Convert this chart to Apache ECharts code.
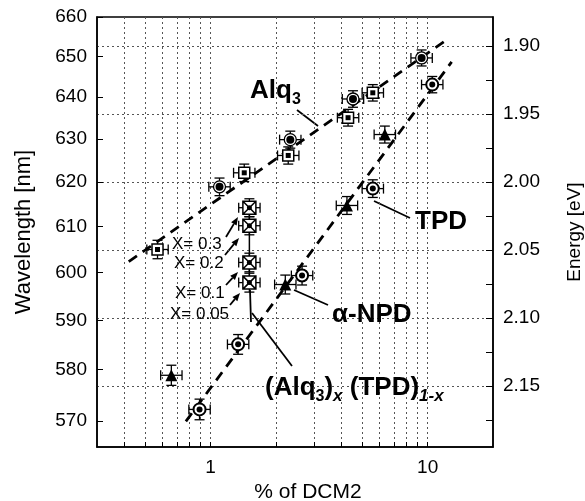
<!DOCTYPE html>
<html>
<head>
<meta charset="utf-8">
<script src="https://cdn.jsdelivr.net/npm/echarts@6/dist/echarts.min.js"></script>
<style>
html, body { margin: 0; padding: 0; background: #fff; }
#main { width: 585px; height: 501px; }
</style>
</head>
<body>
<div id="main"></div>
<script>
// data: % DCM2 and peak wavelength (nm)
var alqCircX = [1.10, 2.33, 4.53, 9.38];
var alqCircNm = [618.9, 629.8, 639.5, 649.6];
var alqSqX = [0.57, 1.43, 2.28, 4.30, 5.59];
var alqSqNm = [605.0, 622.1, 626.1, 635.0, 641.0];
var tpdX = [0.89, 1.34, 2.64, 5.59, 10.5];
var tpdNm = [572.2, 585.1, 599.4, 618.5, 643.0];
var npdX = [0.66, 2.21, 4.25, 6.35];
var npdNm = [578.9, 597.5, 614.7, 631.0];
var mixX = [1.51, 1.51, 1.51, 1.51];
var mixNm = [614.2, 610.2, 602.2, 597.9];
var mixLabels = ['X= 0.3', 'X= 0.2', 'X= 0.1', 'X= 0.05'];
// dashed guide lines (end points)
var fitAlqX = [0.42, 12.2];
var fitAlqNm = [602.4, 654.1];
var fitTpdX = [0.77, 12.9];
var fitTpdNm = [569.9, 648.6];
// error bars
var xErrFactor = 1.12;
var nmErr = 2;
// axes
var xRange = [0.3, 20];
var nmRange = [660, 565];
var xTicks = [0.4, 0.5, 0.6, 0.7, 0.8, 0.9, 1, 2, 3, 4, 5, 6, 7, 8, 9, 10];
var xLabels = [1, 10];
var nmTicks = [570, 580, 590, 600, 610, 620, 630, 640, 650, 660];
var eTicks = [1.90, 1.95, 2.00, 2.05, 2.10, 2.15];
var eMinorTicks = [1.90, 1.925, 1.95, 1.975, 2.00, 2.025, 2.05, 2.075, 2.10, 2.125, 2.15, 2.175];

var HC = 1240;
function ev(nm) { return HC / nm; }
function lg(x) { return Math.log10(x); }
function pts(xs, nms) {
	return xs.map(function (x, i) { return [lg(x), ev(nms[i])]; });
}
function errPts(xs, nms) {
	return xs.map(function (x, i) {
		return [lg(x), ev(nms[i]), lg(x / xErrFactor), lg(x * xErrFactor), ev(nms[i] + nmErr), ev(nms[i] - nmErr)];
	});
}

var FONT = 'Liberation Sans, Arial, Helvetica, sans-serif';
var allErr = [].concat(errPts(alqCircX, alqCircNm), errPts(alqSqX, alqSqNm), errPts(tpdX, tpdNm),
	errPts(npdX, npdNm), errPts(mixX, mixNm));

function errRender(params, api) {
	var c = api.coord([api.value(0), api.value(1)]);
	var xl = api.coord([api.value(2), api.value(1)]);
	var xh = api.coord([api.value(3), api.value(1)]);
	var yl = api.coord([api.value(0), api.value(4)]);
	var yh = api.coord([api.value(0), api.value(5)]);
	var cap = 5;
	var st = { stroke: '#000', lineWidth: 1.3, fill: null };
	return {
		type: 'group',
		children: [
			{ type: 'line', shape: { x1: xl[0], y1: c[1], x2: xh[0], y2: c[1] }, style: st },
			{ type: 'line', shape: { x1: c[0], y1: yl[1], x2: c[0], y2: yh[1] }, style: st },
			{ type: 'line', shape: { x1: xl[0], y1: c[1] - cap, x2: xl[0], y2: c[1] + cap }, style: st },
			{ type: 'line', shape: { x1: xh[0], y1: c[1] - cap, x2: xh[0], y2: c[1] + cap }, style: st },
			{ type: 'line', shape: { x1: c[0] - cap, y1: yl[1], x2: c[0] + cap, y2: yl[1] }, style: st },
			{ type: 'line', shape: { x1: c[0] - cap, y1: yh[1], x2: c[0] + cap, y2: yh[1] }, style: st }
		]
	};
}

function arrow(x1, y1, x2, y2) {
	var a = Math.atan2(y2 - y1, x2 - x1), L = 8, W = 3.2;
	var bx = x2 - L * Math.cos(a), by = y2 - L * Math.sin(a);
	var px = -Math.sin(a) * W, py = Math.cos(a) * W;
	return [
		{ type: 'line', shape: { x1: x1, y1: y1, x2: bx, y2: by }, style: { stroke: '#000', lineWidth: 1.8 } },
		{ type: 'polygon', shape: { points: [[x2, y2], [bx + px, by + py], [bx - px, by - py]] }, style: { fill: '#000' } }
	];
}
function leader(x1, y1, x2, y2) {
	return { type: 'line', shape: { x1: x1, y1: y1, x2: x2, y2: y2 }, style: { stroke: '#000', lineWidth: 1.8 } };
}
var richBig = {
	m: { fontSize: 26, fontWeight: 'bold', fontFamily: FONT, lineHeight: 34, fill: '#000' },
	s: { fontSize: 16, fontWeight: 'bold', fontFamily: FONT, lineHeight: 14, verticalAlign: 'bottom', fill: '#000' },
	si: { fontSize: 17, fontWeight: 'bold', fontStyle: 'italic', fontFamily: FONT, lineHeight: 14, verticalAlign: 'bottom', fill: '#000' }
};
function bigText(x, y, txt) {
	return { type: 'text', x: x, y: y, z: 100, style: { text: txt, rich: richBig, align: 'left', verticalAlign: 'middle' } };
}
function smallText(x, y, txt) {
	return { type: 'text', x: x, y: y, z: 100, style: { text: txt, font: '17px ' + FONT, fill: '#000', align: 'left', verticalAlign: 'middle' } };
}

var labelPos = [[172, 244], [174, 263], [175, 293], [170, 314]];
var arrowPos = [[226, 237, 238, 217], [225, 255, 239, 238], [226, 285, 238, 272], [230, 305, 240, 293]];
var graphics = [
	bigText(250, 91, '{m|Alq}{s|3}'),
	leader(297, 110, 318, 126),
	bigText(415, 222, '{m|TPD}'),
	leader(374, 201, 410, 218),
	bigText(332, 315, '{m|α-NPD}'),
	leader(294, 290, 328, 305),
	bigText(265, 388, '{m|(Alq}{s|3}{m|)}{si|x}{m| (TPD)}{si|1-x}'),
	leader(250, 290, 251, 322),
	leader(252, 313, 292, 366)
];
mixLabels.forEach(function (t, i) {
	graphics.push(smallText(labelPos[i][0], labelPos[i][1], t));
	graphics = graphics.concat(arrow.apply(null, arrowPos[i]));
});

var myChart = echarts.init(document.getElementById('main'));
var gridLine = { show: true, lineStyle: { color: '#555', width: 1, type: [2, 3] } };
var axisLineBlack = { show: true, onZero: false, lineStyle: { color: '#000', width: 1.5 } };

var option = {
	animation: false,
	backgroundColor: '#fff',
	grid: {
		left: 97, right: 92, top: 17, bottom: 54,
		outerBoundsMode: 'none', containLabel: false,
		show: true, borderColor: '#000', borderWidth: 1.5
	},
	xAxis: {
		type: 'value',
		min: lg(xRange[0]),
		max: lg(xRange[1]),
		axisLine: axisLineBlack,
		axisTick: { show: true, inside: true, length: 5, customValues: xTicks.map(lg), lineStyle: { color: '#000' } },
		axisLabel: {
			customValues: xLabels.map(lg), fontSize: 19, color: '#000', fontFamily: FONT, margin: 11,
			formatter: function (v) { return String(Math.round(Math.pow(10, v))); }
		},
		splitLine: gridLine,
		name: '% of DCM2',
		nameLocation: 'middle',
		nameGap: 32,
		nameTextStyle: { fontSize: 21, color: '#000', fontFamily: FONT, padding: [0, 0, 0, 26] }
	},
	yAxis: [
		{
			type: 'value',
			inverse: true,
			position: 'left',
			min: ev(nmRange[0]),
			max: ev(nmRange[1]),
			axisLine: axisLineBlack,
			axisTick: { show: true, inside: true, length: 6, customValues: nmTicks.map(ev), lineStyle: { color: '#000' } },
			axisLabel: {
				customValues: nmTicks.map(ev), fontSize: 19, color: '#000', fontFamily: FONT, margin: 10,
				formatter: function (v) { return String(Math.round(HC / v)); }
			},
			splitLine: { show: false },
			name: 'Wavelength [nm]',
			nameLocation: 'middle',
			nameRotate: 90,
			nameGap: 62,
			nameTextStyle: { fontSize: 22, color: '#000', fontFamily: FONT }
		},
		{
			type: 'value',
			inverse: true,
			position: 'right',
			min: ev(nmRange[0]),
			max: ev(nmRange[1]),
			axisLine: axisLineBlack,
			axisTick: { show: true, inside: true, length: 7, customValues: eMinorTicks, lineStyle: { color: '#000' } },
			axisLabel: {
				customValues: eTicks, fontSize: 19, color: '#000', fontFamily: FONT, margin: 10,
				formatter: function (v) { return v.toFixed(2); }
			},
			splitLine: { show: false },
			name: 'Energy [eV]',
			nameLocation: 'middle',
			nameRotate: 90,
			nameGap: 72,
			nameTextStyle: { fontSize: 19, color: '#000', fontFamily: FONT }
		},
		{
			type: 'value',
			inverse: true,
			position: 'right',
			min: ev(nmRange[0]),
			max: ev(nmRange[1]),
			axisLine: { show: false, onZero: false },
			axisTick: { show: false, customValues: eTicks },
			axisLabel: { show: false },
			splitLine: gridLine
		}
	],
	series: [
		{
			type: 'line', data: pts(fitAlqX, fitAlqNm), showSymbol: false, z: 3,
			lineStyle: { color: '#000', width: 2.8, type: [10, 7] }
		},
		{
			type: 'line', data: pts(fitTpdX, fitTpdNm), showSymbol: false, z: 3,
			lineStyle: { color: '#000', width: 2.8, type: [10, 7] }
		},
		{
			type: 'line', data: pts(mixX, mixNm), showSymbol: false, z: 3,
			lineStyle: { color: '#000', width: 1.5 }
		},
		{
			type: 'custom', renderItem: errRender, data: allErr, z: 4,
			encode: { x: 0, y: 1 }
		},
		// Alq3-type circles
		{ type: 'scatter', data: pts(alqCircX, alqCircNm), symbol: 'circle', symbolSize: 12, z: 5,
			itemStyle: { color: '#fff', borderColor: '#000', borderWidth: 1.3, opacity: 1 } },
		{ type: 'scatter', data: pts(alqCircX, alqCircNm), symbol: 'circle', symbolSize: 8, z: 6,
			itemStyle: { color: '#000', opacity: 1 } },
		// squares
		{ type: 'scatter', data: pts(alqSqX, alqSqNm), symbol: 'rect', symbolSize: 11, z: 5,
			itemStyle: { color: '#fff', borderColor: '#000', borderWidth: 1.5, opacity: 1 } },
		{ type: 'scatter', data: pts(alqSqX, alqSqNm), symbol: 'rect', symbolSize: 5, z: 6,
			itemStyle: { color: '#000', opacity: 1 } },
		// TPD circles
		{ type: 'scatter', data: pts(tpdX, tpdNm), symbol: 'circle', symbolSize: 12, z: 5,
			itemStyle: { color: '#fff', borderColor: '#000', borderWidth: 2, opacity: 1 } },
		{ type: 'scatter', data: pts(tpdX, tpdNm), symbol: 'circle', symbolSize: 6, z: 6,
			itemStyle: { color: '#000', opacity: 1 } },
		// alpha-NPD triangles
		{ type: 'scatter', data: pts(npdX, npdNm), symbol: 'triangle', symbolSize: 12, z: 5,
			itemStyle: { color: '#000', opacity: 1 } },
		// mixed (Alq3)x(TPD)1-x
		{ type: 'scatter', data: pts(mixX, mixNm), symbol: 'path://M0,0H12V12H0Z M0,0L12,12 M12,0L0,12', symbolSize: 13, z: 5,
			itemStyle: { color: '#fff', borderColor: '#000', borderWidth: 1.5, opacity: 1 } },
		{ type: 'scatter', data: pts(mixX, mixNm), symbol: 'circle', symbolSize: 5, z: 6,
			itemStyle: { color: '#000', opacity: 1 } }
	],
	graphic: graphics
};

myChart.setOption(option);
</script>
</body>
</html>
